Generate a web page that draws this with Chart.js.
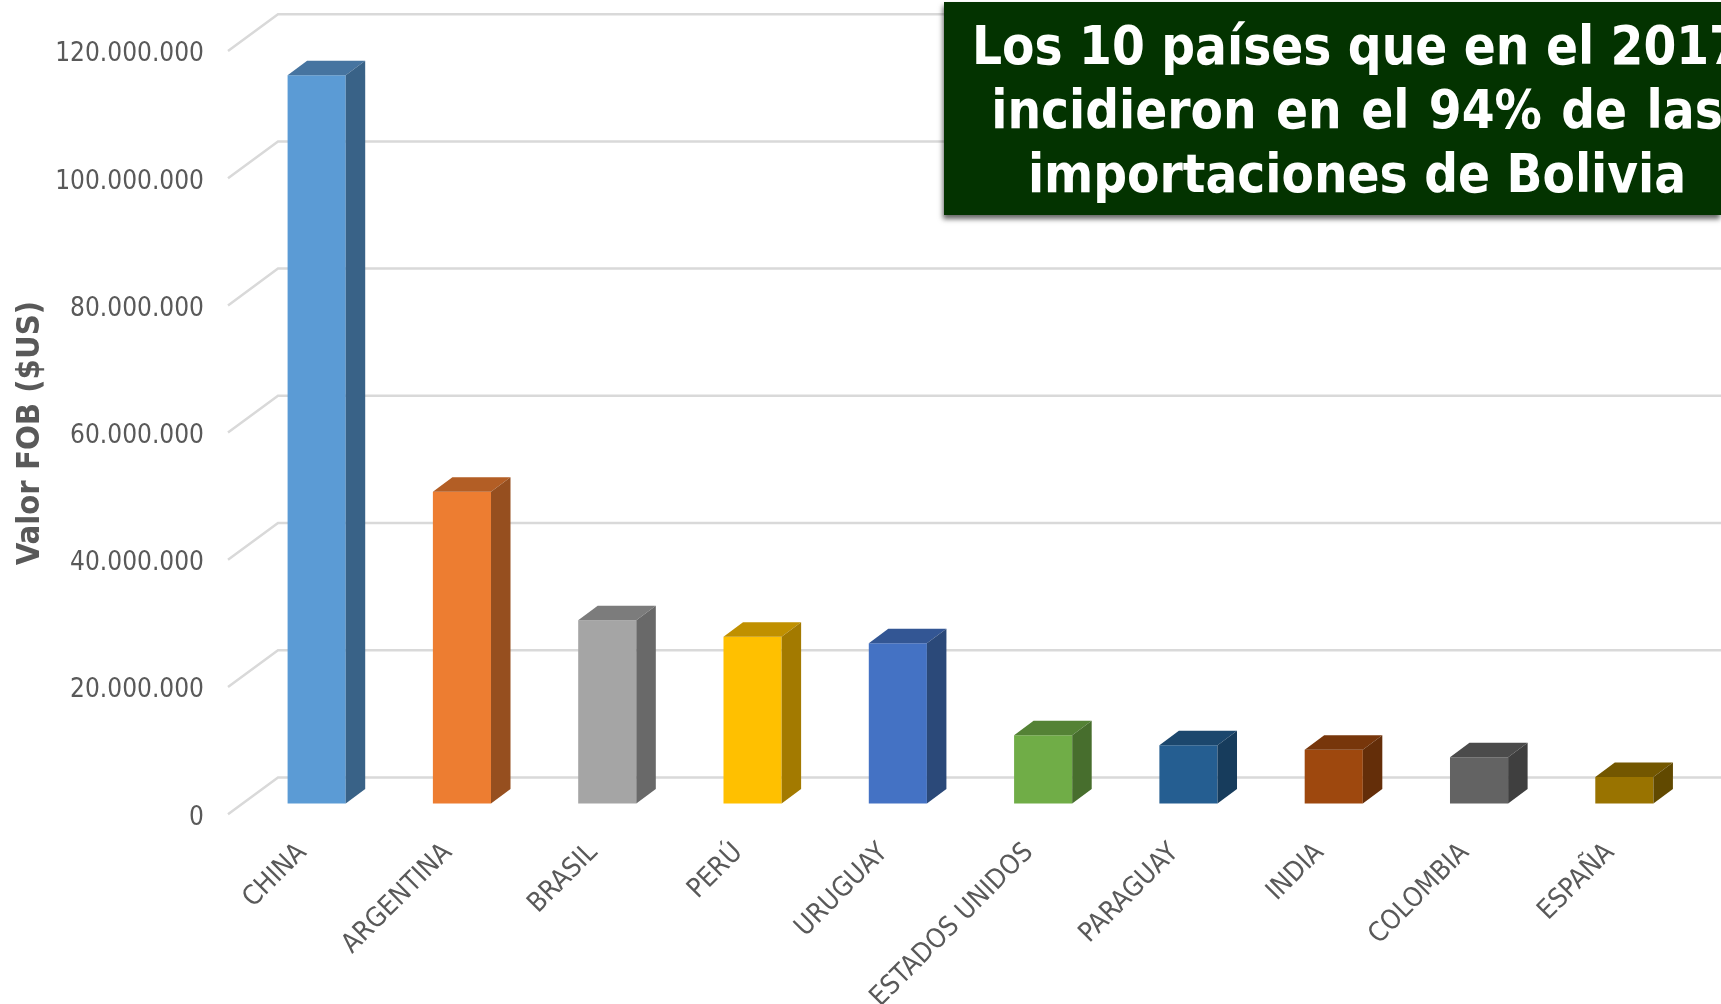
<!DOCTYPE html>
<html lang="es">
<head>
<meta charset="utf-8">
<title>Importaciones de Bolivia 2017</title>
<script src="https://cdn.jsdelivr.net/npm/chart.js@4"></script>
<style>
html,body{margin:0;padding:0;background:#fff;width:1721px;height:1004px;overflow:hidden}
#wrap{position:relative;width:1721px;height:1004px;overflow:hidden}
canvas{position:absolute;left:0;top:0}
#banner{position:absolute;left:944px;top:2px;width:777px;height:213px;background:#033300;box-shadow:-1px 4px 5px rgba(0,0,0,.6);overflow:hidden}
#banner div{position:absolute;left:-150px;width:1126px;text-align:center;color:#fff;font:bold 52.5px "DejaVu Sans Condensed","DejaVu Sans",sans-serif;line-height:64px;white-space:nowrap}
</style>
</head>
<body>
<div id="wrap">
<canvas id="c" width="1721" height="1004"></canvas>
<div id="banner"></div>
</div>
<script>
const categories = ["CHINA","ARGENTINA","BRASIL","PERÚ","URUGUAY","ESTADOS UNIDOS","PARAGUAY","INDIA","COLOMBIA","ESPAÑA"];
const values = [114500000,49000000,28800000,26200000,25200000,10700000,9150000,8450000,7250000,4150000];
const frontColors = ["#5B9BD5","#ED7D31","#A5A5A5","#FFC000","#4472C4","#70AD47","#255E91","#9E480E","#636363","#997300"];
const topColors = ["#4674A0","#B35E25","#7C7C7C","#C09000","#335694","#548235","#1C476D","#77360B","#4B4B4B","#735700"];
const sideColors = ["#396287","#964F1F","#696969","#A37A00","#2B4979","#476E2D","#173C5C","#642E09","#3F3F3F","#614900"];
const yTickValues = [0,20000000,40000000,60000000,80000000,100000000,120000000];
const yAxisTitle = "Valor FOB ($US)";
const bannerLines = ["Los 10 países que en el 2017","incidieron en el 94% de las","importaciones de Bolivia"];

const banner = document.getElementById('banner');
bannerLines.forEach((t,i)=>{const d=document.createElement('div');d.textContent=t;d.style.top=(12+i*64)+'px';if(i===1)d.style.wordSpacing='3px';banner.appendChild(d);});

const DEPTH_X = 19.5, DEPTH_Y = 14.5;
const wall3d = {
  id:'wall3d',
  beforeDatasetsDraw(chart){
    const {ctx} = chart, y = chart.scales.y;
    ctx.save();
    ctx.strokeStyle = '#D9D9D9';
    ctx.lineWidth = 2.5;
    yTickValues.forEach(v=>{
      const p = y.getPixelForValue(v);
      ctx.beginPath();
      ctx.moveTo(228,p+10.8);
      ctx.lineTo(278,p-26);
      ctx.lineTo(1721,p-26);
      ctx.stroke();
    });
    ctx.restore();
  },
  afterDatasetsDraw(chart){
    const {ctx} = chart;
    ctx.save();
    chart.getDatasetMeta(0).data.forEach((el,i)=>{
      const l = el.x-el.width/2, r = el.x+el.width/2, t = el.y, b = el.base;
      ctx.fillStyle = topColors[i];
      ctx.beginPath();
      ctx.moveTo(l,t);ctx.lineTo(l+DEPTH_X,t-DEPTH_Y);ctx.lineTo(r+DEPTH_X,t-DEPTH_Y);ctx.lineTo(r,t);
      ctx.closePath();ctx.fill();
      ctx.fillStyle = sideColors[i];
      ctx.beginPath();
      ctx.moveTo(r,t);ctx.lineTo(r+DEPTH_X,t-DEPTH_Y);ctx.lineTo(r+DEPTH_X,b-DEPTH_Y);ctx.lineTo(r,b);
      ctx.closePath();ctx.fill();
    });
    ctx.restore();
  }
};

const FONT = '"DejaVu Sans Condensed","DejaVu Sans",sans-serif';
new Chart(document.getElementById('c'),{
  type:'bar',
  data:{labels:categories,datasets:[{data:values,backgroundColor:frontColors,barPercentage:0.4,categoryPercentage:1,borderWidth:0}]},
  plugins:[wall3d],
  options:{
    responsive:false,animation:false,
    layout:{padding:{left:0,top:40.2,right:24,bottom:0}},
    plugins:{legend:{display:false},tooltip:{enabled:false},title:{display:false}},
    scales:{
      x:{
        grid:{display:false},border:{display:false},
        afterFit(s){s.height=178;s.paddingLeft=0;s.paddingRight=0;s.paddingTop=0;s.paddingBottom=0;},
        ticks:{autoSkip:false,minRotation:45,maxRotation:45,padding:3,labelOffset:-14,color:'#595959',font:{family:FONT,size:27}}
      },
      y:{
        min:-3553000,max:120000000,
        afterBuildTicks(s){s.ticks=yTickValues.map(value=>({value}));},
        afterFit(s){s.width=244;s.paddingLeft=0;s.paddingRight=0;s.paddingTop=0;s.paddingBottom=0;},
        grid:{display:false},border:{display:false},
        title:{display:true,text:yAxisTitle,color:'#595959',padding:{top:11,bottom:0},font:{family:FONT,size:32.5,weight:'bold'}},
        ticks:{padding:32,labelOffset:14.5,color:'#595959',font:{family:FONT,size:26},
          callback:v=>String(v).replace(/\B(?=(\d{3})+$)/g,'.')}
      }
    }
  }
});
</script>
</body>
</html>
